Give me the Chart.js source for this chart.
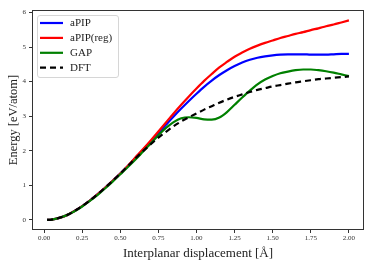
<!DOCTYPE html>
<html>
<head>
<meta charset="utf-8">
<script src="https://cdn.jsdelivr.net/npm/chart.js@4/dist/chart.umd.min.js"></script>
<style>
  html, body { margin: 0; padding: 0; background: #fff; }
  #wrap { width: 374px; height: 267px; }
</style>
</head>
<body>
<div id="wrap"><canvas id="energy_chart" width="374" height="267"></canvas></div>
<script>
// displacement in angstrom
var displacement = [0.02, 0.05, 0.10, 0.15, 0.20, 0.25, 0.30, 0.35, 0.40, 0.45, 0.50, 0.55, 0.60, 0.65, 0.70,
  0.75, 0.80, 0.85, 0.90, 0.95, 1.00, 1.05, 1.10, 1.15, 1.20, 1.25, 1.30, 1.35, 1.40, 1.45, 1.50,
  1.55, 1.60, 1.65, 1.70, 1.75, 1.80, 1.85, 1.90, 1.95, 2.00];

var energyAPIP = [0, 0.01, 0.06, 0.14, 0.26, 0.40, 0.56, 0.74, 0.93, 1.13, 1.34, 1.56, 1.80, 2.03, 2.27,
  2.51, 2.75, 2.99, 3.22, 3.44, 3.65, 3.85, 4.03, 4.19, 4.33, 4.45, 4.55, 4.63, 4.69, 4.73, 4.76,
  4.78, 4.79, 4.79, 4.79, 4.78, 4.78, 4.78, 4.79, 4.80, 4.80];

var energyAPIPreg = [0, 0.01, 0.06, 0.14, 0.26, 0.40, 0.56, 0.74, 0.93, 1.13, 1.34, 1.57, 1.81, 2.05, 2.30,
  2.56, 2.82, 3.08, 3.33, 3.57, 3.80, 4.02, 4.22, 4.41, 4.57, 4.72, 4.84, 4.95, 5.04, 5.12, 5.19,
  5.26, 5.32, 5.38, 5.43, 5.49, 5.54, 5.60, 5.65, 5.71, 5.77];

var energyGAP = [0, 0.01, 0.06, 0.14, 0.25, 0.39, 0.55, 0.72, 0.91, 1.11, 1.32, 1.53, 1.75, 1.98, 2.21,
  2.45, 2.66, 2.83, 2.94, 2.97, 2.95, 2.91, 2.90, 2.96, 3.12, 3.33, 3.54, 3.74, 3.92, 4.06, 4.16,
  4.24, 4.29, 4.33, 4.35, 4.35, 4.33, 4.30, 4.26, 4.21, 4.16];

var energyDFT = [0, 0.01, 0.06, 0.14, 0.26, 0.40, 0.56, 0.74, 0.93, 1.13, 1.34, 1.56, 1.78, 1.99, 2.19,
  2.38, 2.55, 2.71, 2.85, 2.97, 3.08, 3.19, 3.29, 3.39, 3.48, 3.56, 3.63, 3.70, 3.76, 3.81, 3.86,
  3.90, 3.94, 3.98, 4.01, 4.04, 4.07, 4.09, 4.11, 4.13, 4.15];

var xTicks = [0, 0.25, 0.5, 0.75, 1.0, 1.25, 1.5, 1.75, 2.0];
var yTicks = [0, 1, 2, 3, 4, 5, 6];

var serif = "'Liberation Serif', 'DejaVu Serif', serif";

function toPoints(ys) {
  var pts = [];
  for (var i = 0; i < displacement.length; i++) {
    pts.push({x: displacement[i], y: ys[i]});
  }
  return pts;
}

// frame around the plot area + legend box inside it (matplotlib style)
var framePlugin = {
  id: 'frame',
  afterDatasetsDraw: function(chart) {
    var ctx = chart.ctx;
    var a = chart.chartArea;
    ctx.save();
    ctx.strokeStyle = '#333';
    ctx.lineWidth = 1;
    ctx.strokeRect(a.left + 0.5, a.top + 0.5, a.right - a.left - 1, a.bottom - a.top - 1);

    // legend
    var bx = a.left + 5, by = a.top + 5, bw = 81, bh = 62;
    ctx.fillStyle = 'rgba(255,255,255,0.85)';
    ctx.strokeStyle = '#d6d6d6';
    ctx.beginPath();
    ctx.roundRect(bx + 0.5, by + 0.5, bw, bh, 2.5);
    ctx.fill();
    ctx.stroke();

    var sets = chart.data.datasets;
    ctx.font = "11px " + serif;
    ctx.textBaseline = 'middle';
    for (var i = 0; i < sets.length; i++) {
      var ly = by + 8 + i * 14.9;
      ctx.strokeStyle = sets[i].borderColor;
      ctx.lineWidth = sets[i].borderWidth;
      ctx.setLineDash(sets[i].borderDash || []);
      ctx.beginPath();
      ctx.moveTo(bx + 3, ly);
      ctx.lineTo(bx + 26, ly);
      ctx.stroke();
      ctx.setLineDash([]);
      ctx.fillStyle = '#222';
      ctx.fillText(sets[i].label, bx + 33, ly + 0.5);
    }
    ctx.restore();
  }
};

var config = {
  type: 'line',
  data: {
    datasets: [{
        label: 'aPIP',
        data: toPoints(energyAPIP),
        borderColor: '#0000ff',
        borderWidth: 2.2,
        order: 3
      }, {
        label: 'aPIP(reg)',
        data: toPoints(energyAPIPreg),
        borderColor: '#ff0000',
        borderWidth: 2.2,
        order: 2
      }, {
        label: 'GAP',
        data: toPoints(energyGAP),
        borderColor: '#008000',
        borderWidth: 2.2,
        order: 1
      }, {
        label: 'DFT',
        data: toPoints(energyDFT),
        borderColor: '#000000',
        borderWidth: 2.2,
        borderDash: [6, 4],
        order: 0
      }]
  },
  options: {
    responsive: false,
    animation: false,
    events: [],
    layout: { padding: { left: 0, top: 10, right: 10, bottom: 0 } },
    elements: {
      point: { radius: 0 },
      line: { cubicInterpolationMode: 'monotone', fill: false }
    },
    plugins: {
      legend: { display: false },
      tooltip: { enabled: false }
    },
    scales: {
      x: {
        type: 'linear',
        min: -0.079,
        max: 2.099,
        afterFit: function(s) { s.height = 37; },
        afterBuildTicks: function(s) {
          s.ticks = xTicks.map(function(v) { return {value: v}; });
        },
        grid: { display: true, drawOnChartArea: false, drawTicks: true, tickLength: 3, color: '#333' },
        border: { display: false },
        ticks: {
          color: '#333',
          padding: 1,
          maxRotation: 0,
          font: { family: serif, size: 7 },
          callback: function(v) { return v.toFixed(2); }
        },
        title: {
          display: true,
          text: 'Interplanar displacement [Å]',
          color: '#222',
          font: { family: serif, size: 13 },
          padding: { top: 0, bottom: 6 }
        }
      },
      y: {
        type: 'linear',
        min: -0.29,
        max: 6.07,
        afterFit: function(s) { s.width = 32; },
        afterBuildTicks: function(s) {
          s.ticks = yTicks.map(function(v) { return {value: v}; });
        },
        grid: { display: true, drawOnChartArea: false, drawTicks: true, tickLength: 3, color: '#333' },
        border: { display: false },
        ticks: {
          color: '#333',
          padding: 3,
          font: { family: serif, size: 7 }
        },
        title: {
          display: true,
          text: 'Energy [eV/atom]',
          color: '#222',
          font: { family: serif, size: 12.5 },
          padding: { top: 6, bottom: 0 }
        }
      }
    }
  },
  plugins: [framePlugin]
};

new Chart(document.getElementById('energy_chart').getContext('2d'), config);
</script>
</body>
</html>
